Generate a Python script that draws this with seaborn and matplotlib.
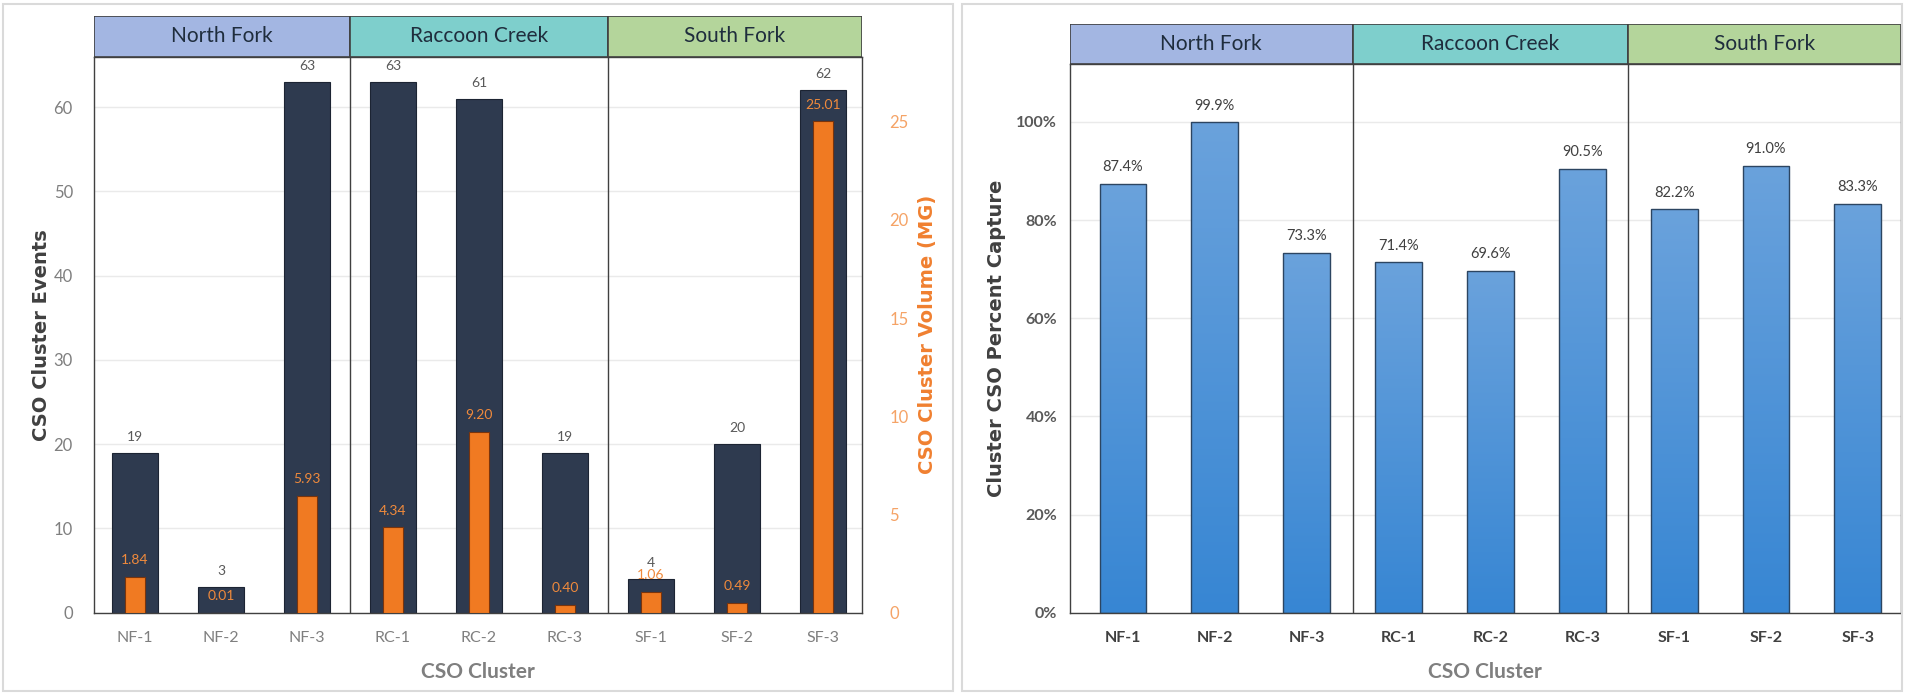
import matplotlib
matplotlib.use("Agg")
import matplotlib.pyplot as plt
import seaborn as sns
import numpy as np
import pandas as pd
from matplotlib.patches import Rectangle
from matplotlib.colors import LinearSegmentedColormap
from matplotlib.ticker import MultipleLocator, FuncFormatter

# ---- data ----
clusters = ["NF-1", "NF-2", "NF-3", "RC-1", "RC-2", "RC-3", "SF-1", "SF-2", "SF-3"]
watersheds = ["North Fork", "Raccoon Creek", "South Fork"]
watershed_colors = ["#A3B6E2", "#7ECFCC", "#B4D59B"]
event_counts = [19, 3, 63, 63, 61, 19, 4, 20, 62]
volume_mg = [1.84, 0.01, 5.93, 4.34, 9.20, 0.40, 1.06, 0.49, 25.01]
percent_capture = [87.4, 99.9, 73.3, 71.4, 69.6, 90.5, 82.2, 91.0, 83.3]

df = pd.DataFrame({"cluster": clusters, "events": event_counts,
                   "volume": volume_mg, "capture": percent_capture})

sns.set_theme(style="white")
plt.rcParams["font.family"] = ["Lato", "DejaVu Sans"]

W, H = 1905, 695
fig = plt.figure(figsize=(W / 100, H / 100), dpi=100)
fig.patch.set_facecolor("white")


def box(l, t, r, b):
    return [l / W, 1 - b / H, (r - l) / W, (b - t) / H]


# panel frames
for l, r in [(3, 953), (962, 1902)]:
    fig.patches.append(Rectangle((l / W, 4 / H), (r - l) / W, (H - 8) / H,
                                 transform=fig.transFigure, fill=False,
                                 edgecolor="#DADADA", lw=1.5))

DARK = "#2E3A4F"
ORANGE = "#F07A22"
GRID = "#EAEAEA"
SPINE = "#404040"
group_edges = [2.5, 5.5]


def style_frame(ax):
    for s in ax.spines.values():
        s.set_visible(True)
        s.set_color(SPINE)
        s.set_linewidth(1.0)
    for x in group_edges:
        ax.axvline(x, color=SPINE, lw=1.0, zorder=3)


def header(rect, xlim):
    hx = fig.add_axes(rect)
    hx.set_xlim(*xlim)
    hx.set_ylim(0, 1)
    bounds = [xlim[0]] + group_edges + [xlim[1]]
    for i, name in enumerate(watersheds):
        hx.add_patch(Rectangle((bounds[i], 0), bounds[i + 1] - bounds[i], 1,
                               facecolor=watershed_colors[i], edgecolor=SPINE, lw=1.2))
        hx.text((bounds[i] + bounds[i + 1]) / 2, 0.5, name, ha="center", va="center",
                fontsize=15, color="#1F2D3D")
    hx.axis("off")


# ---- left panel: events and volume ----
xl1 = (-0.48, 8.45)
ax1 = fig.add_axes(box(93.7, 56.7, 861.6, 612.7))
sns.barplot(data=df, x="cluster", y="events", ax=ax1, color=DARK, width=0.53,
            saturation=1, edgecolor="#1C2433", linewidth=0.8)
ax1.set_ylim(0, 66)
ax1.yaxis.set_major_locator(MultipleLocator(10))
ax1.grid(axis="y", color=GRID, lw=1)
ax1.set_axisbelow(True)
style_frame(ax1)
for i, v in enumerate(event_counts):
    ax1.text(i, v + 1.9, f"{v}", ha="center", va="center", fontsize=10, color="#595959")

ax1b = ax1.twinx()
sns.barplot(data=df, x="cluster", y="volume", ax=ax1b, color=ORANGE, width=0.23,
            saturation=1, edgecolor="#7A340C", linewidth=0.8)
ax1b.set_ylim(0, 28.3)
ax1b.yaxis.set_major_locator(MultipleLocator(5))
for i, v in enumerate(volume_mg):
    ax1b.text(i, v + 0.85, f"{v:.2f}", ha="center", va="center", fontsize=10, color="#F08A3C")
for s in ax1b.spines.values():
    s.set_visible(False)
ax1.set_xlim(*xl1)
ax1b.set_xlim(*xl1)

ax1.tick_params(axis="x", length=0, pad=13, labelsize=11.5, labelcolor="#7F7F7F")
ax1.tick_params(axis="y", length=0, pad=15, labelsize=12, labelcolor="#7F7F7F")
ax1b.tick_params(axis="y", length=0, pad=20, labelsize=12, labelcolor="#F5A366")
ax1.set_xlabel("CSO Cluster", fontsize=15, fontweight="bold", color="#7F7F7F")
ax1.set_ylabel("CSO Cluster Events", fontsize=14, fontweight="bold", color="#404040",
               family=["DejaVu Sans"])
ax1b.set_ylabel("CSO Cluster Volume (MG)", fontsize=14, fontweight="bold", color="#F08030",
                family=["DejaVu Sans"])
ax1.xaxis.set_label_coords(0.5, -0.089)
ax1.yaxis.set_label_coords(-0.056, 0.5)
ax1b.yaxis.set_label_coords(1.074, 0.5)
header(box(93.7, 15.7, 861.6, 56.7), xl1)

# ---- right panel: percent capture ----
xl2 = (-0.58, 8.47)
ax2 = fig.add_axes(box(1069.7, 64, 1901, 612.7))
sns.barplot(data=df, x="cluster", y="capture", ax=ax2, color="#4E92D8", width=0.51,
            saturation=1, edgecolor="#2C4561", linewidth=1.0)
blue_cmap = LinearSegmentedColormap.from_list("blue_fade", ["#3786D3", "#6AA2DC"])
grad = np.linspace(0, 1, 256).reshape(-1, 1)
for p in ax2.patches:
    x0, y0, w, h = p.get_x(), p.get_y(), p.get_width(), p.get_height()
    im = ax2.imshow(grad, extent=[x0, x0 + w, y0, y0 + h], cmap=blue_cmap,
                    aspect="auto", origin="lower", zorder=p.get_zorder() - 0.01)
    im.set_clip_path(p)
    p.set_facecolor("none")
ax2.set_ylim(0, 111.8)
ax2.set_xlim(*xl2)
ax2.yaxis.set_major_locator(MultipleLocator(20))
ax2.yaxis.set_major_formatter(FuncFormatter(lambda v, _: f"{v:.0f}%"))
ax2.grid(axis="y", color=GRID, lw=1)
ax2.set_axisbelow(True)
style_frame(ax2)
for i, v in enumerate(percent_capture):
    ax2.text(i, v + 3.4, f"{v:.1f}%", ha="center", va="center", fontsize=10.5,
             color="#404040")
ax2.tick_params(axis="x", length=0, pad=13, labelsize=11.5, labelcolor="#404040")
ax2.tick_params(axis="y", length=0, pad=9, labelsize=11.5, labelcolor="#595959")
for lab in ax2.get_xticklabels() + ax2.get_yticklabels():
    lab.set_fontweight("bold")
ax2.set_xlabel("CSO Cluster", fontsize=15, fontweight="bold", color="#7F7F7F")
ax2.set_ylabel("Cluster CSO Percent Capture", fontsize=14, fontweight="bold",
               color="#404040", family=["DejaVu Sans"])
ax2.xaxis.set_label_coords(0.5, -0.09)
ax2.yaxis.set_label_coords(-0.077, 0.5)
header(box(1069.7, 24, 1901, 64), xl2)

fig.savefig("out.png", dpi=100, facecolor="white")
